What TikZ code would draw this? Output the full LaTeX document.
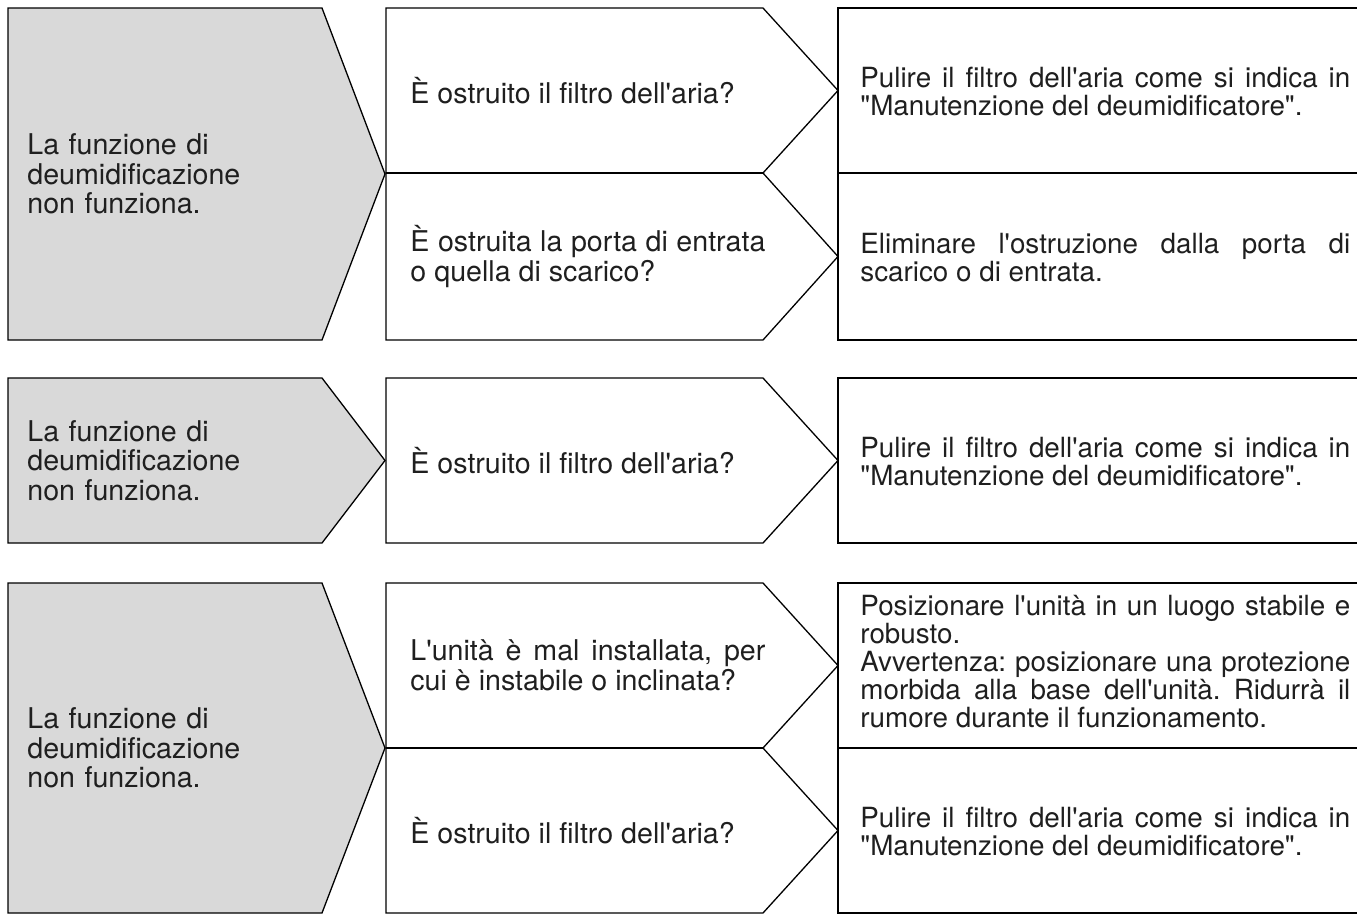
\documentclass[tikz,border=0pt]{standalone}
\usepackage{fontspec}
\setmainfont{TeX Gyre Heros}
\usepackage{tikz}

\newcommand{\ap}{\textquotesingle}
\newcommand{\qt}{\textquotedbl}
\frenchspacing
\hyphenpenalty=10000

\tikzset{
  outline/.style={draw=black, line width=0.65pt, line join=miter},
  causebox/.style={outline, fill=black!15},
  txt/.style={anchor=west, inner sep=0pt, text=black!88,
    font=\fontsize{14.3}{14.8}\selectfont},
  causetxt/.style={txt, align=left, text width=150pt},
  checktxt/.style={txt, align=justify, text width=177.5pt},
  fixtxt/.style={txt, align=justify, text width=245pt,
    font=\fontsize{13.9}{14}\selectfont},
}

\begin{document}
\begin{tikzpicture}[x=0.5pt, y=-0.5pt]
  \useasboundingbox (0,0) rectangle (1357,917);

  % gray cause arrows
  \foreach \t/\b in {8/340, 378/543, 583/913} {
    \pgfmathsetmacro\m{(\t+\b)/2}
    \draw[causebox] (8,\t) -- (322,\t) -- (385,\m) -- (322,\b) -- (8,\b) -- cycle;
  }

  % check arrows and remedy boxes
  \foreach \t/\b in {8/173, 173/340, 378/543, 583/748, 748/913} {
    \pgfmathsetmacro\m{(\t+\b)/2}
    \draw[outline] (386,\t) -- (763,\t) -- (838,\m) -- (763,\b) -- (386,\b) -- cycle;
    \draw[outline] (1362,\t) -- (838,\t) -- (838,\b) -- (1362,\b);
  }
  \foreach \y in {173, 748}
    \draw[line width=1.1pt] (386,\y) -- (763,\y) (838,\y) -- (1362,\y);

  % causes
  \node[causetxt] (cause1) at (27,174) {La funzione di\\deumidificazione\\non funziona.};
  \node[causetxt] (cause2) at (27,460.5) {La funzione di\\deumidificazione\\non funziona.};
  \node[causetxt] (cause3) at (27,748) {La funzione di\\deumidificazione\\non funziona.};

  % checks
  \node[checktxt] (check1a) at (410,90.5) {È ostruito il filtro dell\ap aria?};
  \node[checktxt] (check1b) at (410,256.5) {È ostruita la porta di entrata\linebreak o quella di scarico?};
  \node[checktxt] (check2) at (410,460.5) {È ostruito il filtro dell\ap aria?};
  \node[checktxt] (check3a) at (410,665.5) {L\ap unità è mal installata, per\linebreak cui è instabile o inclinata?};
  \node[checktxt] (check3b) at (410,830.5) {È ostruito il filtro dell\ap aria?};

  % remedies
  \node[fixtxt] (fix1a) at (860,92) {Pulire il filtro dell\ap aria come si indica in\linebreak \qt Manutenzione del deumidificatore\qt.};
  \node[fixtxt] (fix1b) at (860,258) {Eliminare l\ap ostruzione dalla porta di\linebreak scarico o di entrata.};
  \node[fixtxt] (fix2) at (860,462) {Pulire il filtro dell\ap aria come si indica in\linebreak \qt Manutenzione del deumidificatore\qt.};
  \node[fixtxt] (fix3a) at (860,662) {Posizionare l\ap unità in un luogo stabile e\linebreak robusto.\\
    Avvertenza: posizionare una protezione\linebreak morbida alla base dell\ap unità. Ridurrà il\linebreak rumore durante il funzionamento.};
  \node[fixtxt] (fix3b) at (860,832) {Pulire il filtro dell\ap aria come si indica in\linebreak \qt Manutenzione del deumidificatore\qt.};
\end{tikzpicture}
\end{document}
